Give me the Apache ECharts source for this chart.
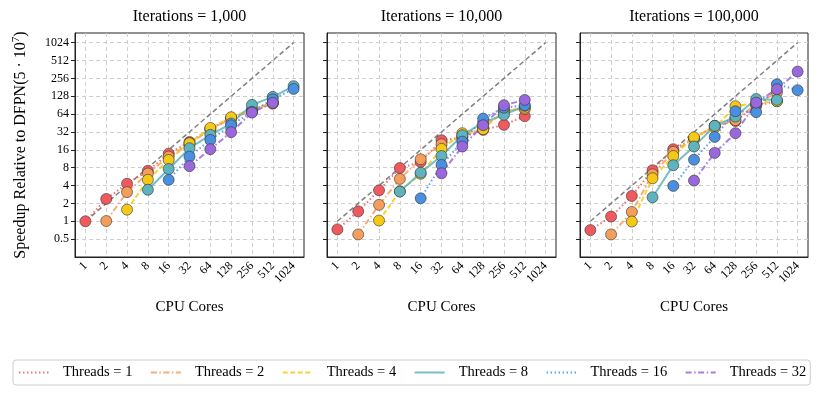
<!DOCTYPE html>
<html>
<head>
<meta charset="utf-8">
<script src="https://cdn.jsdelivr.net/npm/echarts@6/dist/echarts.min.js"></script>
<style>
html, body { margin: 0; padding: 0; background: #fff; }
#main { width: 821px; height: 397px; }
</style>
</head>
<body>
<div id="main"></div>
<script>
// cpu cores on the x axis, speedup (log2) on the y axis
var cores = ['1', '2', '4', '8', '16', '32', '64', '128', '256', '512', '1024'];
var ideal = [1, 2, 4, 8, 16, 32, 64, 128, 256, 512, 1024];
var yTicks = [0.5, 1, 2, 4, 8, 16, 32, 64, 128, 256, 512, 1024];
var panelTitles = ['Iterations = 1,000', 'Iterations = 10,000', 'Iterations = 100,000'];
var threadNames = ['Threads = 1', 'Threads = 2', 'Threads = 4', 'Threads = 8', 'Threads = 16', 'Threads = 32'];

// Iterations = 1,000
var it1k_t1  = [1.0, 2.38, 4.3, 7.1, 13.8, 21.7, 36, 55, 75, 100, null];
var it1k_t2  = [null, 1.01, 3.1, 6.4, 12.3, 20.4, 35, 54, 72, 96, null];
var it1k_t4  = [null, null, 1.57, 5.0, 10.8, 20.7, 37.5, 56.8, 77, 98, null];
var it1k_t8  = [null, null, null, 3.4, 7.6, 17.0, 28.6, 44.4, 91.6, 125, 189];
var it1k_t16 = [null, null, null, null, 5.0, 12.3, 23.5, 41.6, 70, 114, 170];
var it1k_t32 = [null, null, null, null, null, 8.5, 16.4, 31.7, 68, 99, null];

// Iterations = 10,000
var it10k_t1  = [0.73, 1.47, 3.33, 7.9, 10.0, 23.2, 25.8, 34.7, 42.2, 59, null];
var it10k_t2  = [null, 0.6, 1.89, 5.17, 11.1, 19.9, 26.8, 38, 72.6, 77.4, null];
var it10k_t4  = [null, null, 1.03, 3.2, 6.3, 16.6, 30.5, 35.6, 72, 82, null];
var it10k_t8  = [null, null, null, 3.16, 6.6, 12.6, 28.2, 46, 62.2, 88, null];
var it10k_t16 = [null, null, null, null, 2.44, 8.9, 22, 53.8, 82, 90.5, null];
var it10k_t32 = [null, null, null, null, null, 6.45, 18.2, 41.6, 90.5, 111, null];

// Iterations = 100,000
var it100k_t1  = [0.71, 1.2, 2.67, 7.25, 16.4, 24.8, 40.5, 49, 88, 107, null];
var it100k_t2  = [null, 0.6, 1.44, 6.2, 14.8, 24.8, 40.5, 50.5, 94, 148, null];
var it100k_t4  = [null, null, 0.99, 5.3, 12.6, 26.1, 38, 87, 98, 105, null];
var it100k_t8  = [null, null, null, 2.54, 8.8, 18.2, 40.5, 58.2, 115, 111, null];
var it100k_t16 = [null, null, null, null, 3.94, 10.9, 26.4, 71.5, 69, 204, 162];
var it100k_t32 = [null, null, null, null, null, 4.85, 14.2, 30.5, 100, 168, 334];

var panels = [
    [it1k_t1, it1k_t2, it1k_t4, it1k_t8, it1k_t16, it1k_t32],
    [it10k_t1, it10k_t2, it10k_t4, it10k_t8, it10k_t16, it10k_t32],
    [it100k_t1, it100k_t2, it100k_t4, it100k_t8, it100k_t16, it100k_t32]
];

var colors = ['#f05a5e', '#f59e5b', '#f5c915', '#5eb3bf', '#4a8fe0', '#9a67dc'];
var dashes = [[1.5, 2.5], [6, 2.5, 1.5, 2.5], [5, 2.5], 'solid', [1.5, 2.5], [6, 2.5, 1.5, 2.5]];
var serif = '"Liberation Serif", "DejaVu Serif", serif';

var gridLeft = [75, 327, 580];
var gridWidth = [229, 229, 228];

var grids = [], xAxes = [], yAxes = [], series = [], graphics = [];

function tickLabel(v) {
    var e = Math.log2(v);
    if (Math.abs(e - Math.round(e)) > 1e-6) return '';
    if (v < 0.49 || v > 1025) return '';
    return v < 1 ? '0.5' : String(Math.round(v));
}

for (var p = 0; p < 3; p++) {
    grids.push({
        left: gridLeft[p], top: 33, width: gridWidth[p], height: 224,
        show: true, borderColor: '#222', borderWidth: 1, containLabel: false
    });
    xAxes.push({
        type: 'category', gridIndex: p, data: cores, boundaryGap: true,
        name: 'CPU Cores', nameLocation: 'middle', nameGap: 43,
        nameTextStyle: {fontFamily: serif, fontSize: 15, color: '#000'},
        axisLine: {lineStyle: {color: '#222'}},
        axisTick: {alignWithLabel: true, interval: 0, length: 4, lineStyle: {color: '#222'}},
        axisLabel: {interval: 0, rotate: 45, fontFamily: serif, fontSize: 12, color: '#000', margin: 7},
        splitLine: {show: true, interval: 0, alignWithLabel: true, lineStyle: {color: '#cfcfcf', type: [4, 3]}}
    });
    yAxes.push({
        type: 'log', logBase: 2, gridIndex: p, min: 0.25, max: 1490,
        name: p === 0 ? '{n|Speedup Relative to DFPN(5 · 10}{sup|7}{n|)}' : '',
        nameLocation: 'middle', nameGap: 45,
        nameTextStyle: {
            fontFamily: serif, fontSize: 16, color: '#000',
            rich: {
                n: {fontFamily: serif, fontSize: 16, color: '#000', lineHeight: 19},
                sup: {fontFamily: serif, fontSize: 11, color: '#000', verticalAlign: 'top', lineHeight: 19, padding: [0, 0, 7, 0]}
            }
        },
        axisLine: {show: true, lineStyle: {color: '#222'}},
        axisTick: {show: true, length: 4, customValues: yTicks, lineStyle: {color: '#222'}},
        axisLabel: {show: p === 0, customValues: yTicks, formatter: tickLabel, fontFamily: serif, fontSize: 12, color: '#000', margin: 6},
        splitLine: {show: true, lineStyle: {color: '#cfcfcf', type: [4, 3]}}
    });
    graphics.push({
        type: 'text', x: gridLeft[p] + gridWidth[p] / 2, y: 17,
        style: {text: panelTitles[p], font: '16px ' + serif, fill: '#000', align: 'center', verticalAlign: 'middle'}
    });

    // ideal linear speedup
    series.push({
        type: 'line', xAxisIndex: p, yAxisIndex: p, data: ideal, z: 1,
        symbol: 'none', silent: true,
        lineStyle: {color: '#808080', width: 1.5, type: [5, 3]}
    });

    for (var t = 0; t < 6; t++) {
        series.push({
            type: 'line', name: threadNames[t], xAxisIndex: p, yAxisIndex: p,
            data: panels[p][t], z: 2,
            symbol: 'circle', symbolSize: 11, showSymbol: true,
            lineStyle: {color: colors[t], width: 2, type: dashes[t], opacity: 0.85},
            itemStyle: {color: colors[t], borderColor: '#333', borderWidth: 0.6}
        });
    }
}

var chart = echarts.init(document.getElementById('main'), null, {renderer: 'canvas'});
chart.setOption({
    animation: false,
    backgroundColor: '#fff',
    grid: grids,
    xAxis: xAxes,
    yAxis: yAxes,
    legend: {
        data: threadNames,
        left: 13, top: 360, width: 805,
        padding: [5, 4, 5, 5],
        borderColor: '#cccccc', borderWidth: 1, borderRadius: 3,
        itemWidth: 30, itemHeight: 12, itemGap: 17.5,
        itemStyle: {opacity: 0},
        textStyle: {fontFamily: serif, fontSize: 14.5, color: '#000', padding: [0, 0, 0, 9]}
    },
    graphic: graphics,
    series: series
});
</script>
</body>
</html>
